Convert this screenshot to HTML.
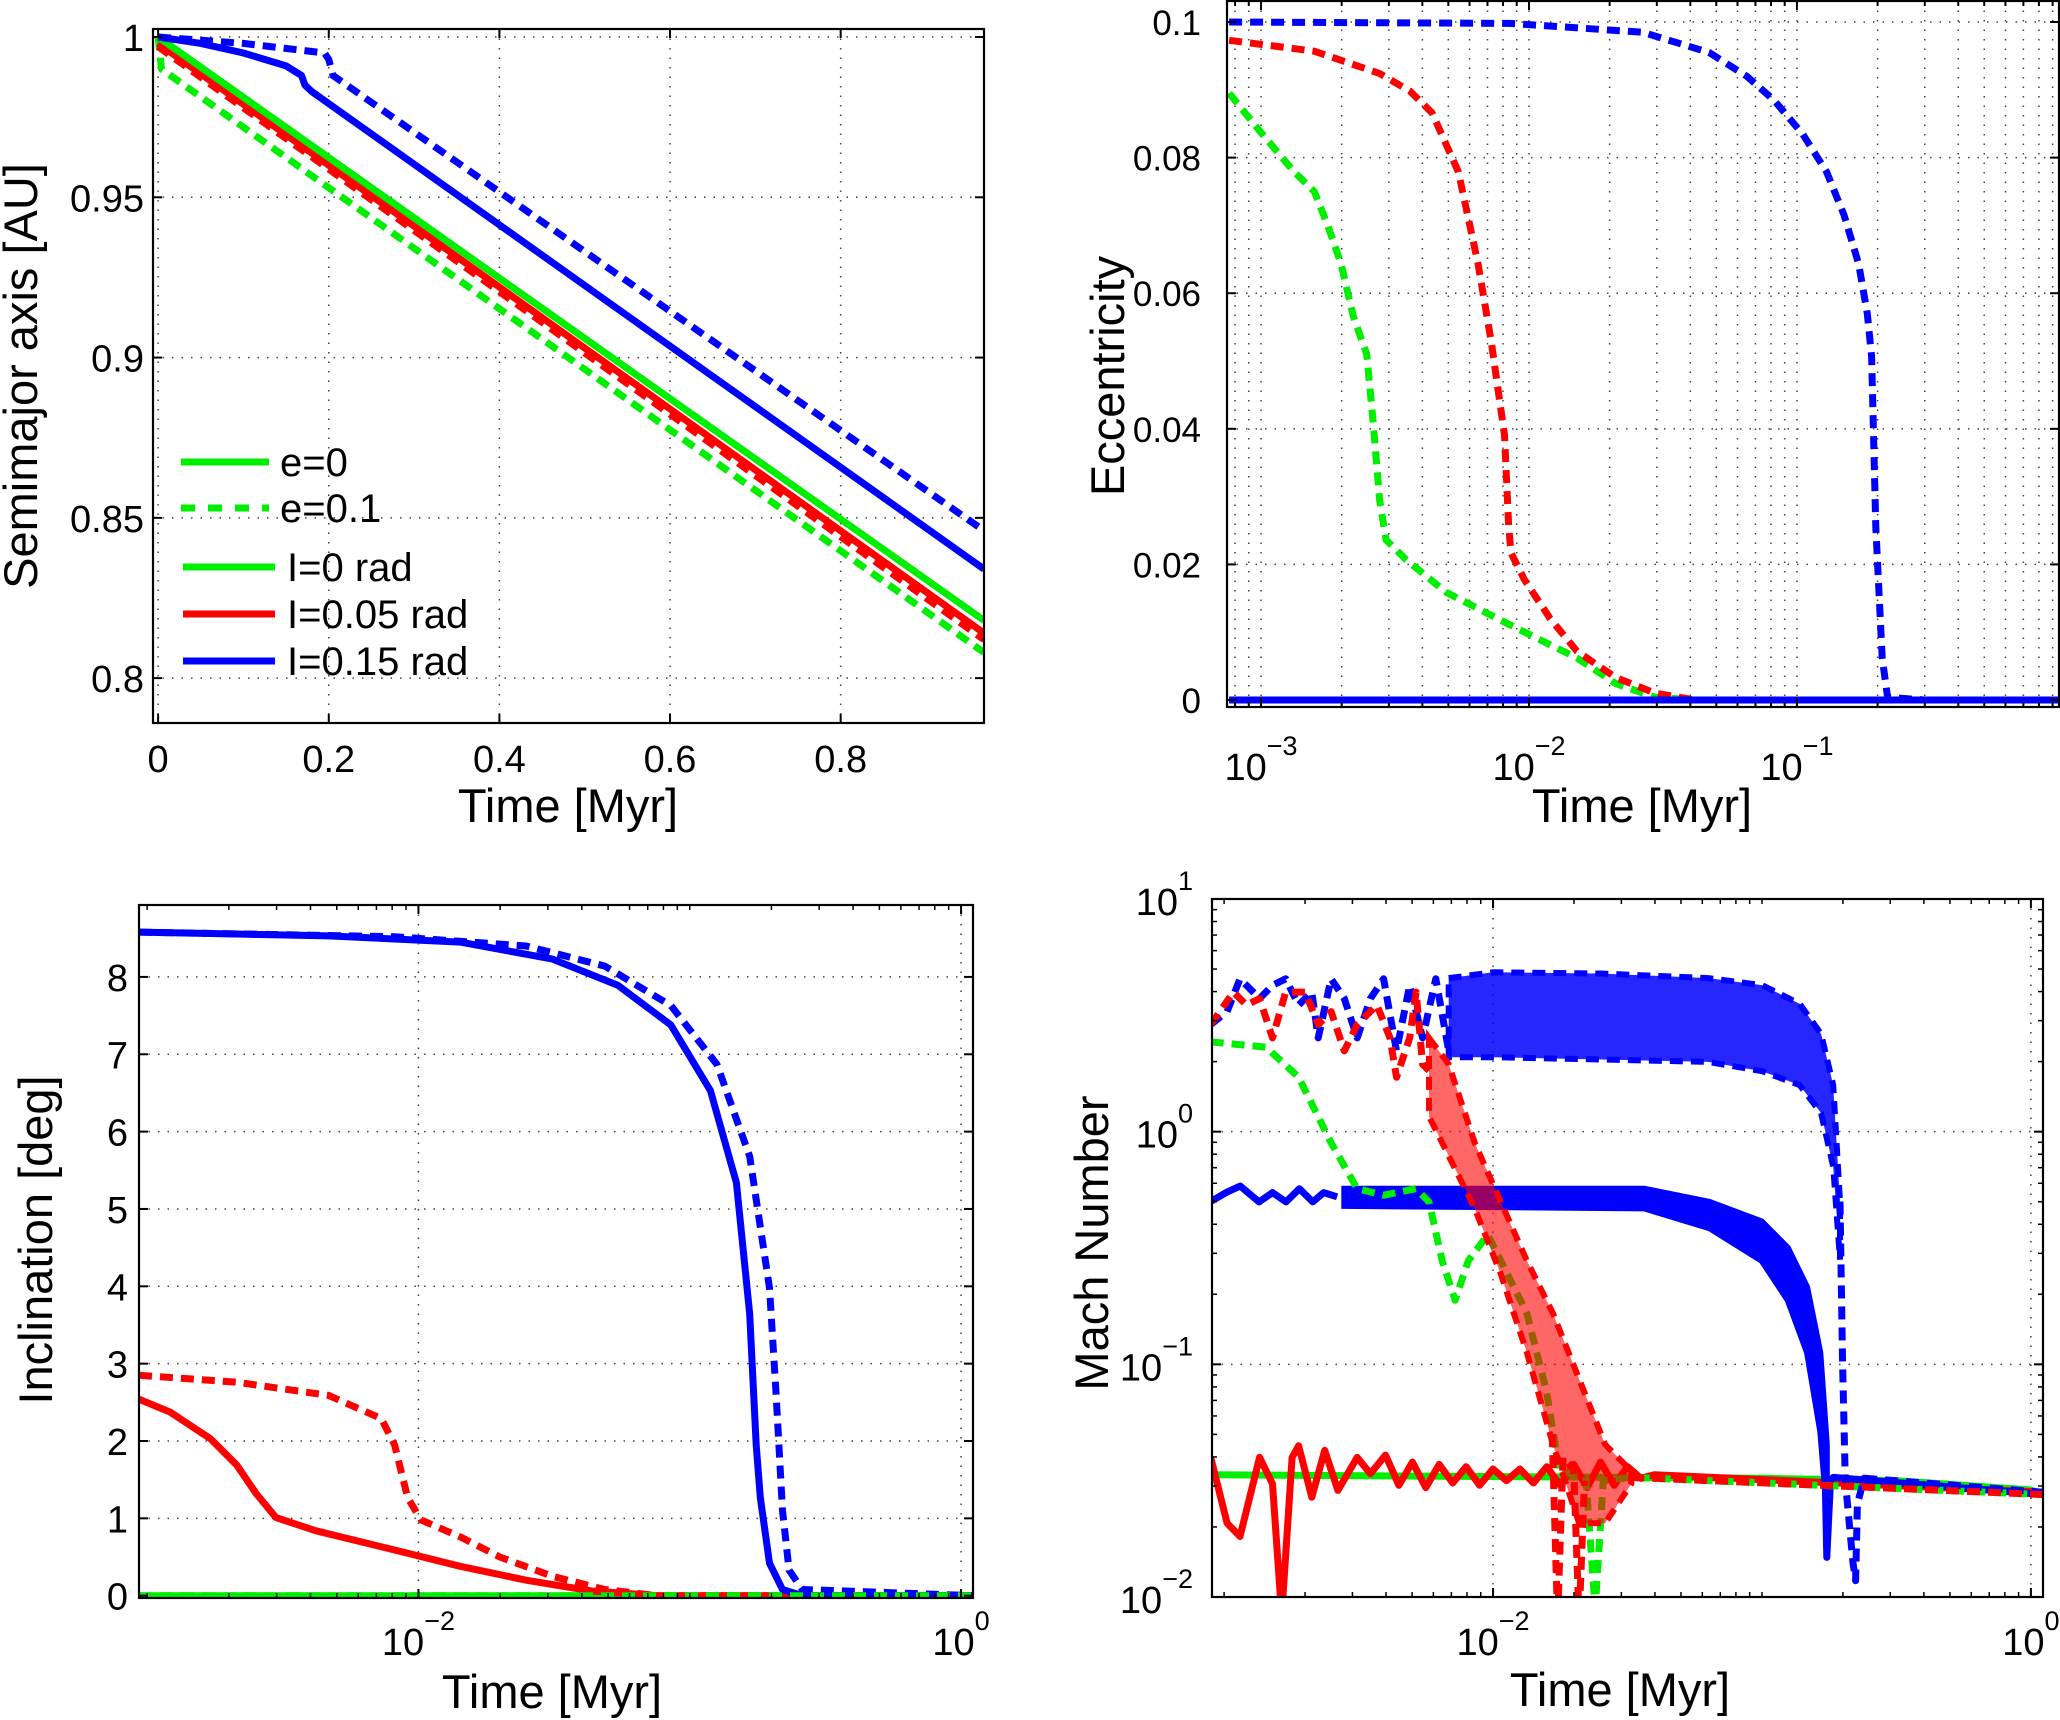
<!DOCTYPE html>
<html><head><meta charset="utf-8"><style>
html,body{margin:0;padding:0;background:#fff;}
svg{display:block;font-family:"Liberation Sans",Arial,sans-serif;}
</style></head><body>
<svg id="fig" width="2060" height="1720" viewBox="0 0 2060 1720" xmlns="http://www.w3.org/2000/svg"></svg>
<script>
// ---------- Panel 1: semimajor axis (linear) ----------
const a_t_green = [0, 0.968];
const a_v_green = [1.0, 0.818];
const a_t_red = [0, 0.968];
const a_v_red = [0.998, 0.814];
const a_t_redD = [0, 0.968];
const a_v_redD = [0.997, 0.812];
const a_t_greenD = [0, 0.004, 0.968];
const a_v_greenD = [1.0, 0.990, 0.808];
const a_t_blue = [0, 0.05, 0.1, 0.15, 0.168, 0.172, 0.18, 0.968];
const a_v_blue = [1.0, 0.998, 0.995, 0.991, 0.988, 0.985, 0.983, 0.834];
const a_t_blueD = [0, 0.1, 0.195, 0.2, 0.205, 0.968];
const a_v_blueD = [1.0, 0.998, 0.995, 0.993, 0.988, 0.846];
const a_xticks = [0, 0.2, 0.4, 0.6, 0.8];
const a_xlabels = ["0", "0.2", "0.4", "0.6", "0.8"];
const a_yticks = [0.8, 0.85, 0.9, 0.95, 1];
const a_ylabels = ["0.8", "0.85", "0.9", "0.95", "1"];

// ---------- Panel 2: eccentricity (log time) ----------
const e_t_blueD = [7.6e-4, 0.0085, 0.0265, 0.047, 0.065, 0.082, 0.105, 0.129, 0.15, 0.17, 0.183, 0.19, 0.197, 0.208, 0.218, 0.3, 1];
const e_v_blueD = [0.100, 0.0998, 0.0985, 0.0955, 0.092, 0.0885, 0.0835, 0.0779, 0.0715, 0.0643, 0.057, 0.0507, 0.0255, 0.0062, 0.0004, 0, 0];
const e_t_redD = [7.6e-4, 1.58e-3, 2.77e-3, 3.6e-3, 4.35e-3, 5.45e-3, 6.46e-3, 7.24e-3, 8.1e-3, 8.4e-3, 8.57e-3, 9.6e-3, 0.012, 0.0151, 0.0211, 0.0296, 0.0416, 1];
const e_v_redD = [0.0973, 0.0957, 0.0924, 0.0898, 0.0866, 0.0779, 0.0643, 0.0527, 0.0391, 0.0256, 0.0217, 0.0178, 0.012, 0.0072, 0.0033, 0.0010, 0, 0];
const e_t_greenD = [7.6e-4, 1e-3, 1.33e-3, 1.58e-3, 1.77e-3, 1.99e-3, 2.21e-3, 2.48e-3, 2.62e-3, 2.77e-3, 2.93e-3, 3.48e-3, 4.9e-3, 8.57e-3, 0.0151, 0.0211, 0.0296, 0.0416, 1];
const e_v_greenD = [0.0895, 0.0837, 0.0779, 0.075, 0.0701, 0.0643, 0.0566, 0.051, 0.0411, 0.0295, 0.0236, 0.0207, 0.0159, 0.011, 0.0062, 0.0024, 0.0004, 0, 0];
const e_t_flat = [7.6e-4, 1];
const e_v_flat = [0, 0];
const e_yticks = [0, 0.02, 0.04, 0.06, 0.08, 0.1];
const e_ylabels = ["0", "0.02", "0.04", "0.06", "0.08", "0.1"];
const e_xexp = [-3, -2, -1];

// ---------- Panel 3: inclination (log10 time) ----------
const i_lt_blue = [-3.03, -2.331, -1.846, -1.506, -1.264, -1.07, -0.924, -0.828, -0.779, -0.755, -0.74, -0.706, -0.658, -0.585, 0.05];
const i_v_blue = [8.58, 8.53, 8.45, 8.23, 7.89, 7.38, 6.53, 5.34, 3.64, 1.95, 1.27, 0.42, 0.08, 0, 0];
const i_lt_blueD = [-3.03, -2.088, -1.603, -1.313, -1.07, -0.9, -0.779, -0.706, -0.682, -0.658, -0.634, -0.585, 0.05];
const i_v_blueD = [8.58, 8.52, 8.40, 8.14, 7.63, 6.87, 5.68, 3.98, 2.63, 1.10, 0.33, 0.08, 0];
const i_lt_red = [-3.03, -2.913, -2.767, -2.670, -2.598, -2.525, -2.379, -2.088, -1.846, -1.603, -1.361, -1.119, 0.05];
const i_v_red = [2.54, 2.37, 2.03, 1.69, 1.32, 1.01, 0.84, 0.59, 0.38, 0.20, 0.06, 0, 0];
const i_lt_redD = [-3.03, -2.670, -2.331, -2.137, -2.088, -2.04, -1.991, -1.846, -1.70, -1.506, -1.313, -1.119, 0.05];
const i_v_redD = [2.85, 2.76, 2.59, 2.29, 1.95, 1.27, 0.98, 0.76, 0.50, 0.25, 0.08, 0, 0];
const i_lt_green = [-3.03, 0.05];
const i_v_green = [0, 0];
const i_yticks = [0, 1, 2, 3, 4, 5, 6, 7, 8];
const i_xexp = [-2, 0];

// ---------- Panel 4: Mach number (log10 time, log10 Mach) ----------
const m_lt_greenS = [-3.05, -1.0, -0.5, 0.0, 0.05];
const m_lm_greenS = [-1.475, -1.49, -1.5, -1.54, -1.56];
const m_lt_redS = [-3.05, -2.989, -2.941, -2.868, -2.82, -2.786, -2.747, -2.723, -2.674, -2.626, -2.577, -2.505, -2.456, -2.40, -2.35, -2.30, -2.25, -2.20, -2.15, -2.10, -2.05, -2.0, -1.95, -1.9, -1.85, -1.8, -1.75, -1.7, -1.65, -1.6, -1.55, -1.5, -1.45, -1.4, 0.05];
const m_lm_redS = [-1.40, -1.683, -1.74, -1.40, -1.514, -2.08, -1.40, -1.35, -1.571, -1.37, -1.542, -1.40, -1.47, -1.39, -1.52, -1.42, -1.53, -1.43, -1.51, -1.44, -1.52, -1.45, -1.50, -1.45, -1.51, -1.44, -1.52, -1.43, -1.53, -1.42, -1.52, -1.44, -1.49, -1.475, -1.55];
const m_lt_blueS = [-3.05, -2.99, -2.94, -2.87, -2.82, -2.77, -2.72, -2.67, -2.63, -2.58];
const m_lm_blueS = [-0.30, -0.26, -0.234, -0.302, -0.262, -0.302, -0.245, -0.302, -0.262, -0.28];
const m_band_blueS_t = [-2.553, -1.438, -1.195, -1.001, -0.904, -0.832, -0.783, -0.759];
const m_band_blueS_hi = [-0.245, -0.245, -0.302, -0.386, -0.499, -0.668, -0.95, -1.345];
const m_band_blueS_lo = [-0.319, -0.33, -0.415, -0.555, -0.725, -0.95, -1.289, -1.627];
const m_lt_blueS2 = [-0.77, -0.759, -0.745, -0.735, 0.05];
const m_lm_blueS2 = [-1.2, -1.83, -1.5, -1.486, -1.56];
const m_lt_greenD = [-3.05, -2.844, -2.723, -2.602, -2.505, -2.407, -2.286, -2.238, -2.189, -2.141, -2.092, -2.02, -1.971, -1.874, -1.801, -1.753, -1.655, -1.62, -1.59, -1.486, 0.05];
const m_lm_greenD = [0.386, 0.363, 0.234, -0.048, -0.245, -0.273, -0.245, -0.302, -0.555, -0.725, -0.555, -0.443, -0.555, -0.781, -1.119, -1.458, -1.486, -2.05, -1.5, -1.486, -1.56];
const m_lt_redD = [-3.05, -2.965, -2.917, -2.868, -2.82, -2.771, -2.698, -2.65, -2.602, -2.553, -2.505, -2.432, -2.383, -2.359, -2.31, -2.286, -2.262, -2.238];
const m_lm_redD = [0.46, 0.60, 0.544, 0.572, 0.403, 0.60, 0.60, 0.46, 0.516, 0.347, 0.46, 0.544, 0.403, 0.234, 0.403, 0.60, 0.29, 0.262];
const m_band_redD_t = [-2.238, -2.165, -2.068, -1.971, -1.874, -1.777, -1.68, -1.583, -1.486];
const m_band_redD_hi = [0.403, 0.29, -0.048, -0.302, -0.555, -0.781, -1.063, -1.345, -1.458];
const m_band_redD_lo = [0.065, -0.104, -0.33, -0.612, -0.95, -1.345, -1.683, -1.683, -1.514];
const m_lt_redSpike = [-1.78, -1.76, -1.74, -1.70, -1.68, -1.66];
const m_lm_redSpike = [-1.3, -2.1, -1.4, -1.45, -2.1, -1.5];
const m_lt_redD2 = [-1.486, 0.05];
const m_lm_redD2 = [-1.486, -1.56];
const m_lt_blueD = [-3.05, -2.989, -2.941, -2.868, -2.82, -2.771, -2.723, -2.674, -2.65, -2.602, -2.553, -2.505, -2.456, -2.407, -2.359, -2.31, -2.262, -2.213, -2.165];
const m_lm_blueD = [0.46, 0.516, 0.657, 0.572, 0.629, 0.657, 0.544, 0.60, 0.403, 0.657, 0.572, 0.403, 0.572, 0.657, 0.347, 0.629, 0.403, 0.657, 0.347];
const m_band_blueD_t = [-2.165, -2.0, -1.6, -1.2, -1.0, -0.86, -0.78, -0.735, -0.71];
const m_band_blueD_hi = [0.66, 0.685, 0.68, 0.66, 0.63, 0.55, 0.42, 0.2, -0.3];
const m_band_blueD_lo = [0.32, 0.32, 0.31, 0.30, 0.26, 0.20, 0.08, -0.15, -0.55];
const m_lt_blueD2 = [-0.71, -0.70, -0.69, -0.662, -0.652, -0.645, -0.62, 0.05];
const m_lm_blueD2 = [-0.3, -1.0, -1.5, -1.85, -1.93, -1.6, -1.49, -1.55];
const m_yexp = [-2, -1, 0, 1];
const m_xexp = [-2, 0];

// ---------- drawing ----------
const NS = "http://www.w3.org/2000/svg";
const svg = document.getElementById('fig');
function mk(tag, attrs, parent) {
  const e = document.createElementNS(NS, tag);
  for (const k in attrs) e.setAttribute(k, attrs[k]);
  (parent || svg).appendChild(e);
  return e;
}
const GREEN = '#00ee00', RED = '#ff0000', BLUE = '#0000ff';
const LW = 7, DASH = '13 8';
const TF = 38;

function panel(name, x0, x1, y0, y1, xd, yd) {
  const g = mk('g', {});
  
  
  const cid = 'clip-' + name;
  const cp = mk('clipPath', {id: cid}, g);
  mk('rect', {x: x0, y: y0, width: x1 - x0, height: y1 - y0}, cp);
  const P = {g, x0, x1, y0, y1,
    sx: v => x0 + (v - xd[0]) / (xd[1] - xd[0]) * (x1 - x0),
    sy: v => y1 - (v - yd[0]) / (yd[1] - yd[0]) * (y1 - y0)};
  P.grid = mk('g', {}, g);
  P.plot = mk('g', {'clip-path': 'url(#' + cid + ')'}, g);
  
  
  return P;
}
function frame(P) {
  const r = mk('rect', {x: P.x0, y: P.y0, width: P.x1 - P.x0, height: P.y1 - P.y0, fill: 'none', stroke: '#000', 'stroke-width': 2.2}, P.g);
  
  
}
function vgrid(P, px, major, tickLen) {
  const l = mk('line', {x1: px, x2: px, y1: P.y0, y2: P.y1, stroke: '#444', 'stroke-width': 1.5, 'stroke-dasharray': '1.5 8'}, P.grid);
  
  
  const L = tickLen;
  mk('line', {x1: px, x2: px, y1: P.y1, y2: P.y1 - L, stroke: '#000', 'stroke-width': 2}, P.g);
  mk('line', {x1: px, x2: px, y1: P.y0, y2: P.y0 + L, stroke: '#000', 'stroke-width': 2}, P.g);
}
function hgrid(P, py, tickLen) {
  const l = mk('line', {x1: P.x0, x2: P.x1, y1: py, y2: py, stroke: '#444', 'stroke-width': 1.5, 'stroke-dasharray': '1.5 8'}, P.grid);
  
  
  mk('line', {x1: P.x0, x2: P.x0 + tickLen, y1: py, y2: py, stroke: '#000', 'stroke-width': 2}, P.g);
  mk('line', {x1: P.x1, x2: P.x1 - tickLen, y1: py, y2: py, stroke: '#000', 'stroke-width': 2}, P.g);
}
function minorTicks(P, px, axis) {
  if (axis === 'x') {
    mk('line', {x1: px, x2: px, y1: P.y1, y2: P.y1 - 5, stroke: '#000', 'stroke-width': 1.5}, P.g);
    mk('line', {x1: px, x2: px, y1: P.y0, y2: P.y0 + 5, stroke: '#000', 'stroke-width': 1.5}, P.g);
  } else {
    mk('line', {x1: P.x0, x2: P.x0 + 5, y1: px, y2: px, stroke: '#000', 'stroke-width': 1.5}, P.g);
    mk('line', {x1: P.x1, x2: P.x1 - 5, y1: px, y2: px, stroke: '#000', 'stroke-width': 1.5}, P.g);
  }
}
function text(P, x, y, s, anchor, size, name) {
  const t = mk('text', {x: x, y: y, 'text-anchor': anchor, 'font-size': size, fill: '#000'}, P.g);
  t.textContent = s;
  
  
  return t;
}
function powText(P, x, y, exp, anchor, name) {
  const t = mk('text', {x: x, y: y, 'text-anchor': anchor, 'font-size': TF, fill: '#000'}, P.g);
  
  
  const a = mk('tspan', {}, t); a.textContent = '10';
  const b = mk('tspan', {dy: -25, 'font-size': 27}, t);
  b.textContent = exp < 0 ? '\u2212' + (-exp) : String(exp);
  return t;
}
function series(P, xs, ys, color, dashed, name, fx, fy) {
  let d = '';
  for (let i = 0; i < xs.length; i++) d += (i ? 'L' : 'M') + fx(xs[i]).toFixed(1) + ',' + fy(ys[i]).toFixed(1);
  const p = mk('path', {d: d, fill: 'none', stroke: color, 'stroke-width': LW, 'stroke-linejoin': 'round'}, P.plot);
  if (dashed) p.setAttribute('stroke-dasharray', DASH);
  
  
  return p;
}
function band(P, xs, hi, lo, color, name, fx, fy) {
  let d = '';
  for (let i = 0; i < xs.length; i++) d += (i ? 'L' : 'M') + fx(xs[i]).toFixed(1) + ',' + fy(hi[i]).toFixed(1);
  for (let i = xs.length - 1; i >= 0; i--) d += 'L' + fx(xs[i]).toFixed(1) + ',' + fy(lo[i]).toFixed(1);
  d += 'Z';
  const p = mk('path', {d: d, fill: color, stroke: color, 'stroke-width': 6, 'stroke-dasharray': DASH}, P.plot);
  
  
  return p;
}
function axTitle(x, y, s, rot, name) {
  const t = mk('text', {x: x, y: y, 'text-anchor': 'middle', 'font-size': 47, fill: '#000'});
  if (rot) t.setAttribute('transform', 'rotate(-90 ' + x + ' ' + y + ')');
  t.textContent = s;
  
  
}

// Panel 1
(function () {
  const P = panel('semimajor-axis-panel', 153, 984, 29, 723, [-0.006, 0.968], [0.786, 1.0025]);
  a_xticks.forEach((v, i) => { vgrid(P, P.sx(v), true, 9); text(P, P.sx(v), 772, a_xlabels[i], 'middle', TF, 'x-tick-label'); });
  a_yticks.forEach((v, i) => { hgrid(P, P.sy(v), 9); text(P, 144, P.sy(v) + 14, a_ylabels[i], 'end', TF, 'y-tick-label'); });
  const fx = P.sx, fy = P.sy;
  series(P, a_t_greenD, a_v_greenD, GREEN, true, 'series-e0.1-i0', fx, fy);
  series(P, a_t_red, a_v_red, RED, false, 'series-e0-i0.05', fx, fy);
  series(P, a_t_redD, a_v_redD, RED, true, 'series-e0.1-i0.05', fx, fy);
  series(P, a_t_green, a_v_green, GREEN, false, 'series-e0-i0', fx, fy);
  series(P, a_t_blue, a_v_blue, BLUE, false, 'series-e0-i0.15', fx, fy);
  series(P, a_t_blueD, a_v_blueD, BLUE, true, 'series-e0.1-i0.15', fx, fy);
  frame(P);
  const lg = mk('g', {}, P.g);
  
  
  const ents = [[462, GREEN, false, 'e=0', 181, 269, 280], [508, GREEN, true, 'e=0.1', 181, 269, 280], [567, GREEN, false, 'I=0 rad', 183, 275, 287], [614, RED, false, 'I=0.05 rad', 183, 275, 287], [661, BLUE, false, 'I=0.15 rad', 183, 275, 287]];
  ents.forEach(e => {
    const eg = mk('g', {}, lg);
    
    
    const l = mk('line', {x1: e[4], x2: e[5], y1: e[0], y2: e[0], stroke: e[1], 'stroke-width': 7}, eg);
    if (e[2]) l.setAttribute('stroke-dasharray', '14 13');
    const t = mk('text', {x: e[6], y: e[0] + 14, 'font-size': 40}, eg);
    t.textContent = e[3];
  });
  axTitle(568, 822, 'Time [Myr]', false, 'x-axis-title');
  axTitle(37, 376, 'Semimajor axis [AU]', true, 'y-axis-title');
})();

// Panel 2
(function () {
  const P = panel('eccentricity-panel', 1227, 2059, 1, 707, [-3.127, -0.022], [-0.00103, 0.1031]);
  const fx = v => P.sx(Math.log10(v)), fy = P.sy;
  for (let e = -4; e <= 0; e++) for (let m = 1; m <= 9; m++) {
    const lv = e + Math.log10(m);
    if (lv < -3.127 || lv > -0.022) continue;
    const px = P.sx(lv);
    if (m === 1) vgrid(P, px, true, 9);
    else { vgrid(P, px, false, 5); }
  }
  e_xexp.forEach(ex => powText(P, P.sx(ex), 780, ex, 'middle', 'x-tick-label'));
  e_yticks.forEach((v, i) => { hgrid(P, P.sy(v), 9); text(P, 1201, P.sy(v) + 13, e_ylabels[i], 'end', 35, 'y-tick-label'); });
  series(P, e_t_flat, e_v_flat, GREEN, false, 'series-e0-i0', fx, fy);
  series(P, e_t_flat, e_v_flat, RED, false, 'series-e0-i0.05', fx, fy);
  series(P, e_t_greenD, e_v_greenD, GREEN, true, 'series-e0.1-i0', fx, fy);
  series(P, e_t_redD, e_v_redD, RED, true, 'series-e0.1-i0.05', fx, fy);
  series(P, e_t_blueD, e_v_blueD, BLUE, true, 'series-e0.1-i0.15', fx, fy);
  series(P, e_t_flat, e_v_flat, BLUE, false, 'series-e0-i0.15', fx, fy);
  frame(P);
  axTitle(1642, 822, 'Time [Myr]', false, 'x-axis-title');
  axTitle(1124, 376, 'Eccentricity', true, 'y-axis-title');
})();

// Panel 3
(function () {
  const P = panel('inclination-panel', 139, 973, 905, 1598, [-3.03, 0.044], [-0.03, 8.93]);
  for (let e = -4; e <= 0; e++) for (let m = 1; m <= 9; m++) {
    const lv = e + Math.log10(m);
    if (lv < -3.03 || lv > 0.044) continue;
    if (m === 1 && e % 2 === 0) vgrid(P, P.sx(lv), true, 9); else minorTicks(P, P.sx(lv), 'x');
  }
  i_xexp.forEach(ex => powText(P, P.sx(ex), 1655, ex, 'middle', 'x-tick-label'));
  i_yticks.forEach(v => { hgrid(P, P.sy(v), 9); text(P, 128, P.sy(v) + 14, String(v), 'end', TF, 'y-tick-label'); });
  const fx = P.sx, fy = P.sy;
  series(P, i_lt_green, i_v_green, GREEN, false, 'series-e0-i0', fx, fy);
  series(P, i_lt_red, i_v_red, RED, false, 'series-e0-i0.05', fx, fy);
  series(P, i_lt_redD, i_v_redD, RED, true, 'series-e0.1-i0.05', fx, fy);
  series(P, i_lt_blue, i_v_blue, BLUE, false, 'series-e0-i0.15', fx, fy);
  series(P, i_lt_blueD, i_v_blueD, BLUE, true, 'series-e0.1-i0.15', fx, fy);
  series(P, i_lt_green, i_v_green, GREEN, true, 'series-e0.1-i0', fx, fy);
  frame(P);
  axTitle(552, 1708, 'Time [Myr]', false, 'x-axis-title');
  axTitle(52, 1240, 'Inclination [deg]', true, 'y-axis-title');
})();

// Panel 4
(function () {
  const P = panel('mach-number-panel', 1212, 2043, 899, 1597, [-3.045, 0.045], [-2, 1]);
  for (let e = -4; e <= 0; e++) for (let m = 1; m <= 9; m++) {
    const lv = e + Math.log10(m);
    if (lv < -3.045 || lv > 0.045) continue;
    if (m === 1 && e % 2 === 0) vgrid(P, P.sx(lv), true, 9); else minorTicks(P, P.sx(lv), 'x');
  }
  for (let e = -2; e <= 1; e++) for (let m = 1; m <= 9; m++) {
    const lv = e + Math.log10(m);
    if (lv > 1) continue;
    if (m === 1) hgrid(P, P.sy(lv), 9); else minorTicks(P, P.sy(lv), 'y');
  }
  m_xexp.forEach(ex => powText(P, P.sx(ex), 1655, ex, 'middle', 'x-tick-label'));
  m_yexp.forEach(ex => powText(P, 1193, P.sy(ex) + 16, ex, 'end', 'y-tick-label'));
  const fx = P.sx, fy = P.sy;
  series(P, m_lt_greenS, m_lm_greenS, GREEN, false, 'series-e0-i0', fx, fy);
  series(P, m_lt_redS, m_lm_redS, RED, false, 'series-e0-i0.05', fx, fy);
  series(P, m_lt_blueS, m_lm_blueS, BLUE, false, 'series-e0-i0.15-early', fx, fy);
  const bs = band(P, m_band_blueS_t, m_band_blueS_hi, m_band_blueS_lo, BLUE, 'series-e0-i0.15-band', fx, fy);
  bs.setAttribute('stroke-dasharray', 'none');
  series(P, m_lt_blueS2, m_lm_blueS2, BLUE, false, 'series-e0-i0.15-late', fx, fy);
  series(P, m_lt_greenD, m_lm_greenD, GREEN, true, 'series-e0.1-i0', fx, fy);
  series(P, m_lt_blueD, m_lm_blueD, BLUE, true, 'series-e0.1-i0.15-early', fx, fy);
  const bd = band(P, m_band_blueD_t, m_band_blueD_hi, m_band_blueD_lo, BLUE, 'series-e0.1-i0.15-band', fx, fy);
  bd.setAttribute('fill-opacity', '0.85');
  series(P, m_lt_blueD2, m_lm_blueD2, BLUE, true, 'series-e0.1-i0.15-late', fx, fy);
  series(P, m_lt_redD, m_lm_redD, RED, true, 'series-e0.1-i0.05-early', fx, fy);
  const rb = band(P, m_band_redD_t, m_band_redD_hi, m_band_redD_lo, RED, 'series-e0.1-i0.05-band', fx, fy);
  rb.setAttribute('fill-opacity', '0.6');
  series(P, m_lt_redSpike, m_lm_redSpike, RED, true, 'series-e0.1-i0.05-spikes', fx, fy);
  series(P, m_lt_redD2, m_lm_redD2, RED, true, 'series-e0.1-i0.05-late', fx, fy);
  frame(P);
  axTitle(1620, 1706, 'Time [Myr]', false, 'x-axis-title');
  axTitle(1108, 1243, 'Mach Number', true, 'y-axis-title');
})();
</script>
</body></html>
